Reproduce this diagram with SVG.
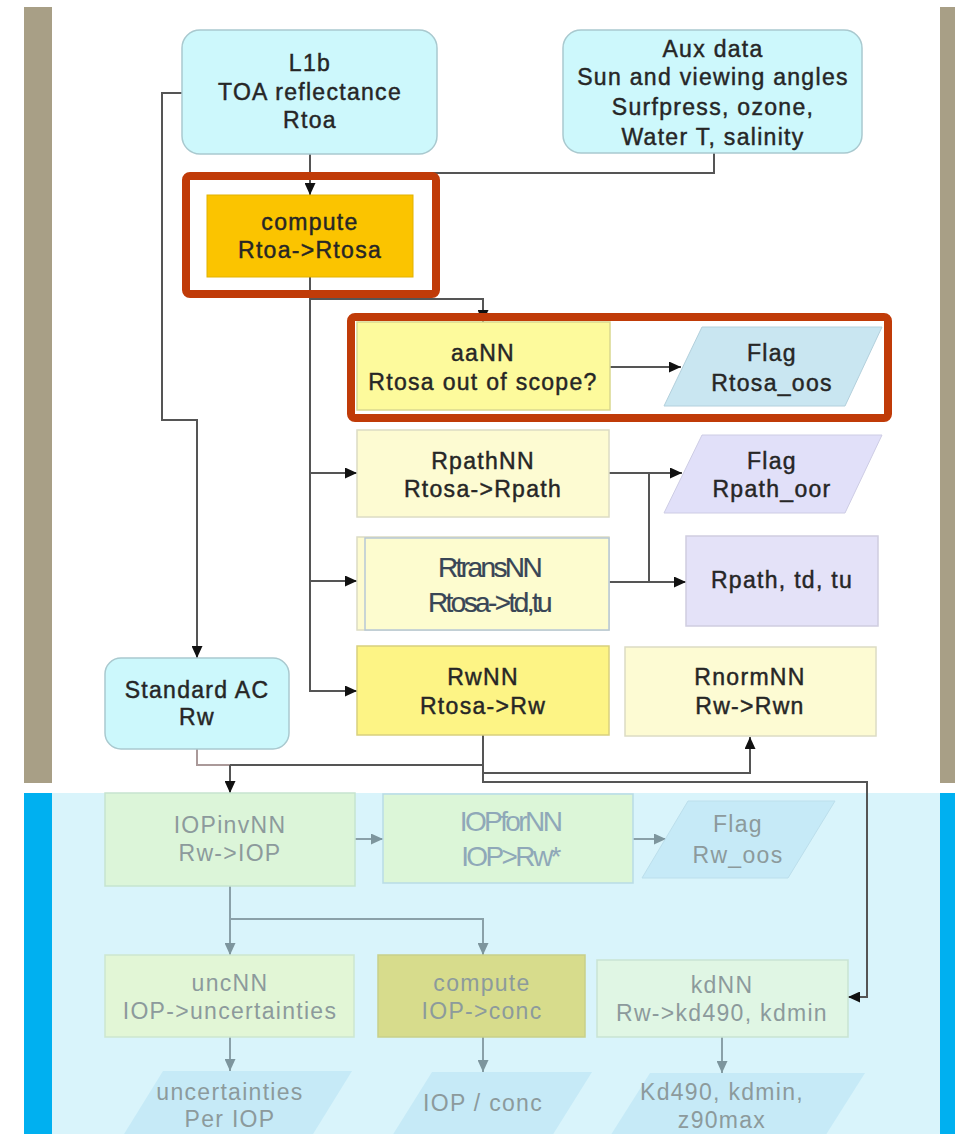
<svg xmlns="http://www.w3.org/2000/svg" width="955" height="1134" viewBox="0 0 955 1134">
<defs>
<marker id="ah" markerUnits="userSpaceOnUse" markerWidth="13" markerHeight="11" refX="12" refY="5.5" orient="auto"><path d="M0,0 L12,5.5 L0,11 Z" fill="#111"/></marker>
<marker id="ahf" markerUnits="userSpaceOnUse" markerWidth="13" markerHeight="11" refX="12" refY="5.5" orient="auto"><path d="M0,0 L12,5.5 L0,11 Z" fill="#7d959d"/></marker>
</defs>
<style>
text{font-family:"Liberation Sans",Arial,sans-serif;font-size:23px;letter-spacing:1.3px;text-anchor:middle;fill:#262626;stroke:#262626;stroke-width:0.45px}
.f text{fill:#8c9a9c;stroke:none}
.cn{font-size:28px;letter-spacing:-2.6px;fill:#394656;stroke:#394656;stroke-width:0.2px}
.f .cnf{font-size:28px;letter-spacing:-2.6px;fill:#8fa8b8}
.ln{fill:none;stroke:#555;stroke-width:2}
.lf{fill:none;stroke:#8aa0a8;stroke-width:2}
.red{fill:none;stroke:#c03b08;stroke-width:8}
</style>
<rect width="955" height="1134" fill="#fff"/>
<rect x="52" y="793" width="888" height="341" fill="#d9f4fb"/>
<rect x="24" y="7" width="28" height="776" fill="#a89f86"/>
<rect x="940" y="7" width="15" height="776" fill="#a89f86"/>
<rect x="24" y="793" width="28" height="341" fill="#00b0f0"/>
<rect x="940" y="793" width="15" height="341" fill="#00b0f0"/>

<g id="connectors">
<path class="ln" d="M310,154 V195" marker-end="url(#ah)"/>
<path class="ln" d="M714,153 V173 H310"/>
<path class="ln" d="M182,93 H162 V420 H197 V658" marker-end="url(#ah)"/>
<path class="ln" d="M310,277 V691 H357" marker-end="url(#ah)"/>
<path class="ln" d="M310,299 H483 V322" marker-end="url(#ah)"/>
<path class="ln" d="M310,473 H357" marker-end="url(#ah)"/>
<path class="ln" d="M310,581 H357" marker-end="url(#ah)"/>
<path class="ln" d="M610,367 H681" marker-end="url(#ah)"/>
<path class="ln" d="M609,473 H682" marker-end="url(#ah)"/>
<path class="ln" d="M649,473 V582"/>
<path class="ln" d="M609,582 H686" marker-end="url(#ah)"/>
<path d="M197,749 V765 H230" fill="none" stroke="#a99" stroke-width="2"/>
<path class="ln" d="M230,765 H483"/>
<path class="ln" d="M230,765 V793" marker-end="url(#ah)"/>
<path class="ln" d="M483,735 V782 H867 V997 H848" marker-end="url(#ah)"/>
<path class="ln" d="M483,773 H750 V737" marker-end="url(#ah)"/>
<path class="lf" d="M355,839 H383" marker-end="url(#ahf)"/>
<path class="lf" d="M633,839 H666" marker-end="url(#ahf)"/>
<path class="lf" d="M230,886 V955" marker-end="url(#ahf)"/>
<path class="lf" d="M230,919 H483 V955" marker-end="url(#ahf)"/>
<path class="lf" d="M230,1037 V1071" marker-end="url(#ahf)"/>
<path class="lf" d="M483,1037 V1072" marker-end="url(#ahf)"/>
<path class="lf" d="M722,1037 V1073" marker-end="url(#ahf)"/>
</g>

<g id="L1b">
<rect x="182" y="30" width="255" height="124" rx="18" fill="#cdf8fc" stroke="#a9c9cf" stroke-width="1.5"/>
<text x="310" y="71">L1b</text><text x="310" y="100">TOA reflectance</text><text x="310" y="128">Rtoa</text>
</g>
<g id="aux">
<rect x="563" y="30" width="299" height="123" rx="18" fill="#cdf8fc" stroke="#a9c9cf" stroke-width="1.5"/>
<text x="713" y="57">Aux data</text><text x="713" y="85">Sun and viewing angles</text><text x="713" y="115">Surfpress, ozone,</text><text x="713" y="145">Water T, salinity</text>
</g>
<g id="compute">
<rect x="207" y="195" width="206" height="82" fill="#fbc400" stroke="#e2b200" stroke-width="1"/>
<text x="310" y="230">compute</text><text x="310" y="258">Rtoa-&gt;Rtosa</text>
</g>
<rect class="red" x="186" y="176" width="250" height="118" rx="4"/>
<g id="aaNN">
<rect x="357" y="322" width="253" height="88" fill="#fdfa9c" stroke="#d9d78f" stroke-width="1.5"/>
<text x="483" y="361">aaNN</text><text x="483" y="390">Rtosa out of scope?</text>
</g>
<g id="flag_oos">
<polygon points="702,327 882,327 845,406 664,406" fill="#c9e6f1" stroke="#b3d0dc" stroke-width="1"/>
<text x="772" y="361">Flag</text><text x="772" y="391">Rtosa_oos</text>
</g>
<rect class="red" x="351" y="317" width="537" height="101" rx="4"/>
<g id="RpathNN">
<rect x="357" y="430" width="252" height="87" fill="#fdfbd2" stroke="#dcdcc4" stroke-width="1.5"/>
<text x="483" y="469">RpathNN</text><text x="483" y="497">Rtosa-&gt;Rpath</text>
</g>
<g id="flag_oor">
<polygon points="702,435 882,435 845,513 664,513" fill="#e1e0f9" stroke="#cdcce4" stroke-width="1"/>
<text x="772" y="469">Flag</text><text x="772" y="497">Rpath_oor</text>
</g>
<g id="RtransNN">
<rect x="357" y="537" width="252" height="93" fill="#fdfbd0" stroke="#dcdcc4" stroke-width="1.5"/>
<rect x="365" y="538" width="244" height="92" fill="#fdfccf" stroke="#b6c7d6" stroke-width="1.5"/>
<text class="cn" x="489" y="577">RtransNN</text><text class="cn" x="489" y="612">Rtosa-&gt;td,tu</text>
</g>
<g id="rpathtdtu">
<rect x="686" y="536" width="192" height="90" fill="#e4e2f8" stroke="#cfcde0" stroke-width="1.5"/>
<text x="782" y="588">Rpath, td, tu</text>
</g>
<g id="RwNN">
<rect x="357" y="646" width="252" height="89" fill="#fdf485" stroke="#d8d07e" stroke-width="1.5"/>
<text x="483" y="685">RwNN</text><text x="483" y="714">Rtosa-&gt;Rw</text>
</g>
<g id="RnormNN">
<rect x="625" y="647" width="251" height="89" fill="#fdfbd3" stroke="#dcdcc4" stroke-width="1.5"/>
<text x="750" y="685">RnormNN</text><text x="750" y="714">Rw-&gt;Rwn</text>
</g>
<g id="stdAC">
<rect x="105" y="658" width="184" height="91" rx="16" fill="#ccf8fc" stroke="#a9c9cf" stroke-width="1.5"/>
<text x="197" y="698">Standard AC</text><text x="197" y="725">Rw</text>
</g>

<g class="f">
<g id="IOPinvNN">
<rect x="105" y="793" width="250" height="93" fill="#dcf5d9" stroke="#c6e4cf" stroke-width="1.5"/>
<text x="230" y="833">IOPinvNN</text><text x="230" y="861">Rw-&gt;IOP</text>
</g>
<g id="IOPforNN">
<rect x="383" y="794" width="250" height="89" fill="#dcf6d8" stroke="#b9dbe6" stroke-width="1.5"/>
<text class="cnf" x="510" y="831">IOPforNN</text><text class="cnf" x="510" y="866">IOP&gt;Rw*</text>
</g>
<g id="flag_rw">
<polygon points="688,801 835,801 788,878 642,878" fill="#c6eaf7" stroke="#bcdfec" stroke-width="1"/>
<text x="738" y="832">Flag</text><text x="738" y="863">Rw_oos</text>
</g>
<g id="uncNN">
<rect x="105" y="955" width="249" height="82" fill="#e2f6d6" stroke="#cde6cf" stroke-width="1.5"/>
<text x="230" y="991">uncNN</text><text x="230" y="1019">IOP-&gt;uncertainties</text>
</g>
<g id="computeconc">
<rect x="378" y="955" width="207" height="82" fill="#d7dc8c" stroke="#c8d08a" stroke-width="1.5"/>
<text x="482" y="991">compute</text><text x="482" y="1019">IOP-&gt;conc</text>
</g>
<g id="kdNN">
<rect x="597" y="960" width="251" height="77" fill="#e0f6e4" stroke="#c9e3d3" stroke-width="1.5"/>
<text x="722" y="993">kdNN</text><text x="722" y="1021">Rw-&gt;kd490, kdmin</text>
</g>
<g id="uncout">
<polygon points="163,1071 352,1071 297,1160 108,1160" fill="#c6eaf7"/>
<text x="230" y="1100">uncertainties</text><text x="230" y="1127">Per IOP</text>
</g>
<g id="concout">
<polygon points="432,1072 592,1072 537,1160 377,1160" fill="#c6eaf7"/>
<text x="483" y="1111">IOP / conc</text>
</g>
<g id="kdout">
<polygon points="650,1073 865,1073 810,1160 595,1160" fill="#c6eaf7"/>
<text x="722" y="1100">Kd490, kdmin,</text><text x="722" y="1128">z90max</text>
</g>
</g>
</svg>
